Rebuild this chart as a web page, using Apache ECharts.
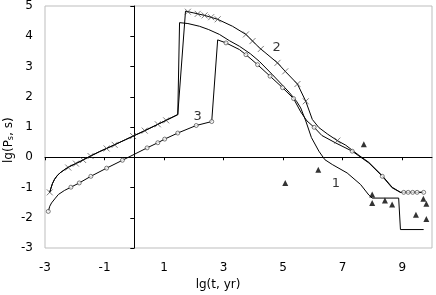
<!DOCTYPE html>
<html><head><meta charset="utf-8">
<script src="https://cdn.jsdelivr.net/npm/echarts@6/dist/echarts.min.js"></script>
<style>html,body{margin:0;padding:0;background:#fff}#c{width:436px;height:295px}</style>
</head><body><div id="c"></div>
<script>
// curve 1 (plain line)
const curve1 = [[-2.84,-1.16],[-2.8,-1.02],[-2.75,-0.87],[-2.68,-0.73],[-2.6,-0.62],[-2.5,-0.52],[-2.3,-0.38],[-2.16,-0.3],[-1.8,-0.13],[-1.49,0.03],[-1.16,0.19],[-0.82,0.34],[-0.3,0.58],[0.29,0.85],[0.9,1.14],[1.46,1.41],[1.52,4.45],[1.8,4.42],[2.19,4.33],[2.5,4.22],[2.86,4.06],[3.2,3.85],[3.53,3.67],[3.9,3.42],[4.2,3.17],[4.64,2.73],[5.2,2.15],[5.45,1.85],[5.59,1.63],[5.76,1.2],[5.95,0.65],[6.2,0.2],[6.4,-0.08],[6.65,-0.24],[7.15,-0.52],[7.6,-0.9],[7.88,-1.25],[7.99,-1.35],[8.88,-1.35],[8.94,-2.39],[9.72,-2.39]];
// curve 2 (line with x markers)
const curve2 = [[-2.84,-1.16],[-2.8,-1.02],[-2.75,-0.87],[-2.68,-0.73],[-2.6,-0.62],[-2.5,-0.52],[-2.3,-0.38],[-2.16,-0.3],[-1.8,-0.13],[-1.49,0.03],[-1.16,0.19],[-0.82,0.34],[-0.3,0.58],[0.29,0.85],[0.9,1.14],[1.46,1.41],[1.72,4.83],[2.0,4.77],[2.36,4.69],[2.8,4.56],[3.3,4.33],[3.75,4.06],[4.2,3.62],[4.81,3.12],[5.07,2.84],[5.48,2.42],[5.76,1.85],[5.98,1.25],[6.2,0.98],[6.5,0.76],[6.82,0.55],[7.1,0.4],[7.55,0.06],[7.88,-0.17],[8.33,-0.61],[8.66,-0.99],[8.94,-1.16],[9.72,-1.16]];
const curve2Marks = [[-2.84,-1.16],[-2.22,-0.34],[-1.96,-0.21],[-1.72,-0.09],[-1.47,0.04],[-0.93,0.29],[-0.66,0.41],[-0.04,0.7],[0.35,0.88],[0.79,1.09],[1.07,1.22],[1.8,4.81],[2.13,4.74],[2.36,4.69],[2.58,4.63],[2.8,4.56],[3.75,4.06],[3.97,3.84],[4.25,3.58],[4.81,3.12],[5.07,2.84],[5.48,2.42],[5.76,1.85],[6.82,0.55]];
// curve 3 (line with circle markers)
const curve3 = [[-2.89,-1.79],[-2.84,-1.62],[-2.78,-1.51],[-2.65,-1.35],[-2.55,-1.23],[-2.35,-1.1],[-2.13,-0.99],[-1.85,-0.85],[-1.46,-0.63],[-0.93,-0.36],[-0.4,-0.1],[0.43,0.31],[0.79,0.48],[1.02,0.6],[1.46,0.8],[2.08,1.05],[2.6,1.18],[2.8,3.88],[3.08,3.78],[3.53,3.56],[3.75,3.39],[4.14,3.06],[4.56,2.68],[4.98,2.3],[5.35,1.94],[5.59,1.5],[5.8,1.2],[6.04,0.99],[6.3,0.72],[6.77,0.47],[7.32,0.2],[7.88,-0.19],[8.33,-0.63],[8.66,-1.01],[8.94,-1.16],[9.72,-1.16]];
const curve3Marks = [[-2.89,-1.79],[-2.13,-0.99],[-1.85,-0.85],[-1.46,-0.63],[-0.93,-0.36],[-0.4,-0.1],[0.43,0.31],[0.79,0.48],[1.02,0.6],[1.46,0.8],[2.08,1.05],[2.6,1.18],[3.08,3.78],[3.75,3.39],[4.14,3.06],[4.56,2.68],[4.98,2.3],[5.35,1.94],[6.04,0.99],[7.32,0.2],[8.33,-0.63],[9.05,-1.16],[9.2,-1.16],[9.35,-1.16],[9.5,-1.16],[9.72,-1.16]];
// observed data (triangles)
const observed = [[5.07,-0.85],[6.18,-0.41],[7.71,0.43],[7.99,-1.23],[7.99,-1.51],[8.42,-1.43],[8.66,-1.56],[9.71,-1.37],[9.81,-1.54],[9.46,-1.9],[9.81,-2.04]];
// curve labels
const curveLabels = [{name:'2', value:[4.78,3.61]},{name:'3', value:[2.13,1.35]},{name:'1', value:[6.77,-0.88]}];
const xTicks = {min:-3, max:10, interval:2};
const yTicks = {min:-3, max:5, interval:1};
const xName = 'lg(t, yr)';

const font = 'DejaVu Sans, Verdana, sans-serif';
const chart = echarts.init(document.getElementById('c'), null, {renderer:'canvas'});
const lineStyle = {color:'#000', width:1};
chart.setOption({
  animation:false,
  backgroundColor:'#fff',
  grid:{left:45, right:4, top:5, bottom:47, show:true, borderColor:'#bdbdbd', borderWidth:1},
  xAxis:{type:'value', min:xTicks.min, max:xTicks.max, interval:xTicks.interval,
    axisLine:{lineStyle:{color:'#000', width:1}}, axisTick:{length:3, lineStyle:{color:'#000'}},
    axisLabel:{fontFamily:font, fontSize:12, color:'#000', margin:2, padding:[12,0,0,0], showMaxLabel:false},
    splitLine:{show:false}},
  yAxis:{type:'value', min:yTicks.min, max:yTicks.max, interval:yTicks.interval,
    axisLine:{show:true, lineStyle:{color:'#000', width:1}}, axisTick:{show:true, length:4, lineStyle:{color:'#000'}},
    axisLabel:{fontFamily:font, fontSize:12, color:'#000', margin:12},
    splitLine:{show:false}},
  graphic:[
    {type:'text', left:'center', x:238, top:279, style:{text:xName, font:'12px '+font, fill:'#000'}},
    {type:'text', x:3, y:163, rotation:Math.PI/2,
      style:{text:'{a|lg(P}{s|s}{a|, s)}', fill:'#000', verticalAlign:'top',
        rich:{a:{fontFamily:font, fontSize:12, fill:'#000'}, s:{fontFamily:font, fontSize:8, fill:'#000', verticalAlign:'bottom'}}}}
  ],
  series:[
    {type:'line', data:curve1, showSymbol:false, lineStyle, z:3},
    {type:'line', data:curve2, showSymbol:false, lineStyle, z:3},
    {type:'line', data:curve3, showSymbol:false, lineStyle, z:3},
    {type:'scatter', data:curve2Marks, symbol:'path://M0,0L10,10M10,0L0,10', symbolSize:6,
      itemStyle:{color:'transparent', borderColor:'#333', borderWidth:0.8}, z:4},
    {type:'scatter', data:curve3Marks, symbol:'circle', symbolSize:4,
      itemStyle:{color:'#fff', borderColor:'#333', borderWidth:0.8}, z:4},
    {type:'scatter', data:observed, symbol:'triangle', symbolSize:6, itemStyle:{color:'#000'}, z:5},
    {type:'scatter', data:curveLabels, symbolSize:0, z:6,
      label:{show:true, position:'inside', formatter:p=>p.name, fontFamily:font, fontSize:13, color:'#000'}}
  ]
});
</script></body></html>
